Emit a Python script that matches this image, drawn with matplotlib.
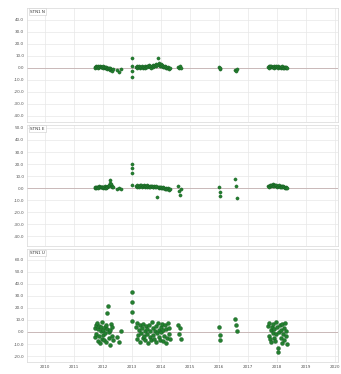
import matplotlib
matplotlib.use("Agg")
import matplotlib.pyplot as plt

# epochs (decimal year), shared by the three components
epochs = [
    # first campaign
    2011.72, 2011.74, 2011.76, 2011.78, 2011.80, 2011.82, 2011.84, 2011.86,
    2011.88, 2011.90, 2011.92, 2011.94, 2011.96, 2011.98, 2012.00, 2012.02,
    2012.04, 2012.06, 2012.08, 2012.10, 2012.12, 2012.14, 2012.16, 2012.18,
    2012.20, 2012.22, 2012.24, 2012.26, 2012.28, 2012.30, 2012.32, 2012.34,
    # stragglers
    2012.50, 2012.56, 2012.62,
    # spike
    2012.99, 2013.00, 2013.01, 2013.02,
    # second campaign
    2013.14, 2013.17, 2013.19, 2013.22, 2013.24, 2013.27, 2013.29, 2013.32,
    2013.34, 2013.37, 2013.39, 2013.42, 2013.44, 2013.47, 2013.49, 2013.52,
    2013.54, 2013.57, 2013.59, 2013.62, 2013.64, 2013.67, 2013.69, 2013.72,
    2013.74, 2013.77, 2013.79, 2013.82, 2013.84, 2013.87, 2013.89, 2013.92,
    2013.94, 2013.97, 2013.99, 2014.02, 2014.04, 2014.07, 2014.09, 2014.12,
    2014.14, 2014.17, 2014.19, 2014.22, 2014.24, 2014.27, 2014.29, 2014.32,
    # short occupations
    2014.58, 2014.62, 2014.66, 2014.70,
    2016.01, 2016.03, 2016.05,
    2016.56, 2016.59, 2016.62,
    # last campaign
    2017.70, 2017.72, 2017.74, 2017.77, 2017.79, 2017.81, 2017.83, 2017.86,
    2017.88, 2017.90, 2017.92, 2017.95, 2017.97, 2017.99, 2018.01, 2018.04,
    2018.06, 2018.08, 2018.10, 2018.13, 2018.15, 2018.17, 2018.19, 2018.22,
    2018.24, 2018.26, 2018.28, 2018.31, 2018.33, 2018.36,
]

north = [
    0.8, 0.3, 1.2, 0.6, 1.0, 0.2, 1.4, 0.7, 0.9, 1.6, 0.4, 1.1, 0.5, 0.9, 0.3, 1.2,
    0.6, 0.0, 0.8, -0.4, 0.5, 0.1, -0.9, 0.2, -1.3, -0.5, -0.2, -1.8, -0.8, -1.5, -2.4, -1.1,
    -2.0, -3.5, -1.2,
    8.5, 1.5, -2.5, -7.5,
    0.5, 1.2, -0.3, 0.8, 1.5, 0.2, 1.0, 0.6, 1.8, 0.3, 1.1, 0.7, 1.4, 0.0, 0.9, 1.6,
    0.4, 1.2, 2.0, 0.8, 1.5, 0.3, 1.9, 1.1, 2.4, 1.3, 2.8, 1.7, 3.5, 2.2, 8.5, 4.1,
    2.6, 1.5, 2.9, 1.2, 2.0, 0.9, 1.7, 0.6, 1.3, 0.2, 1.0, -0.4, 0.7, 0.1, -0.8, 0.3,
    0.8, -0.5, 1.2, 0.2,
    0.5, -0.8, 0.2,
    -1.5, -2.5, -1.0,
    0.6, 1.2, 0.3, 1.5, 0.9, 1.8, 0.4, 1.1, 0.7, 1.4, 0.2, 1.0, 0.6, 1.7, 0.8, 0.3,
    1.3, 0.5, 1.1, 0.0, 0.9, 0.4, 1.2, -0.2, 0.7, 0.3, 1.0, -0.4, 0.5, 0.1,
]

east = [
    0.5, 1.0, 0.2, 1.3, 0.7, 1.1, 0.4, 1.5, 0.9, 1.2, 0.6, 1.4, 0.8, 1.1, 0.3, 1.2,
    0.8, 1.6, 0.5, 1.1, 0.3, 0.9, 1.4, 2.0, 1.5, 2.6, 4.2, 6.5, 3.4, 1.9, 1.2, 0.6,
    -1.0, 0.5, -0.6,
    20.0, 16.5, 13.0, 2.5,
    2.0, 1.4, 2.6, 1.8, 1.1, 2.3, 1.6, 2.9, 1.3, 2.1, 1.7, 2.5, 1.2, 2.0, 1.5, 2.4,
    0.9, 1.8, 1.3, 2.2, 1.0, 1.6, 2.0, 0.8, 1.4, 1.9, 1.1, 0.6, 1.5, -7.0, 1.0, 0.4,
    1.2, 0.7, 0.2, 1.0, 0.5, -0.2, 0.8, 0.1, -0.6, 0.4, -0.3, -1.0, 0.2, -0.8, -1.4, -0.5,
    1.5, -2.5, -6.0, -1.0,
    1.0, -3.5, -6.5,
    7.5, 2.0, -8.0,
    1.5, 2.2, 1.0, 2.6, 1.8, 3.0, 2.4, 3.3, 2.0, 2.8, 1.6, 2.5, 1.9, 2.7, 1.3, 2.1,
    1.7, 2.4, 1.1, 1.9, 0.8, 1.5, 1.0, 1.7, 0.6, 1.2, 0.3, 0.9, -0.2, 0.5,
]

up = [
    3.5, -4.2, 6.1, -1.5, 7.4, -7.8, 2.2, -3.0, 5.0, -9.1, 0.6, 4.4, -5.5, 8.0, -2.4, 1.8,
    -6.3, 3.9, -0.8, 5.7, -8.6, 2.7, 16.0, 21.5, -4.9, 0.3, -10.5, 1.5, 6.8, -3.6, 4.1, -6.9,
    -4.0, -8.5, 1.0,
    33.0, 25.0, 17.0, 9.0,
    4.2, -6.1, 7.5, -2.3, 1.8, -8.4, 5.6, -0.9, 3.1, -5.2, 6.8, -3.7, 0.5, -7.0, 4.9, -1.6,
    2.7, -9.3, 6.2, -4.5, 1.2, -6.8, 8.1, -2.8, 3.6, -5.9, 0.9, -8.0, 5.3, -1.1, 7.2, -3.9,
    2.0, -6.5, 4.5, -0.4, 6.6, -7.5, 1.6, -3.2, 5.8, -9.0, 2.9, -4.8, 7.9, -1.9, 3.3, -6.0,
    6.0, -2.0, 3.5, -5.5,
    4.0, -2.5, -6.5,
    11.0, 6.0, 1.0,
    5.2, -3.1, 7.4, -6.2, 1.5, -8.7, 4.3, -0.6, 6.9, -4.8, 2.1, -7.5, 8.2, -2.0, 3.8, -13.5,
    -17.0, 0.4, 5.6, -5.1, 1.9, -8.9, 6.3, -1.4, 3.0, -6.6, 7.8, -3.5, 0.8, -9.8,
]

panel_labels = ["STN1 N", "STN1 E", "STN1 U"]
panel_ylims = [(-45, 50), (-48, 52.5), (-25, 69)]
panel_yticks = [range(-40, 41, 10), range(-40, 51, 10), range(-20, 61, 10)]
year_ticks = list(range(2010, 2021))

fig = plt.figure(figsize=(3.41, 3.74), dpi=100)
left, right = 0.079, 0.99
boxes = [(0.674, 0.979), (0.342, 0.666), (0.032, 0.334)]

for i, (series, label) in enumerate(zip([north, east, up], panel_labels)):
    bottom, top = boxes[i]
    ax = fig.add_axes([left, bottom, right - left, top - bottom])
    ax.axhline(0, color="#c4b0b0", lw=0.6, zorder=1)
    ax.plot(epochs, series, ls="none", marker="o", ms=2.8 if i == 2 else 2.3,
            mec="#175c22", mew=0.3, color="#23802f", zorder=3)
    ax.set_xlim(2009.38, 2020.1)
    ax.set_ylim(*panel_ylims[i])
    ax.set_yticks(list(panel_yticks[i]))
    ax.set_yticklabels([f"{v:.1f}" for v in panel_yticks[i]])
    ax.set_xticks(year_ticks)
    if i == 2:
        ax.set_xticklabels([str(y) for y in year_ticks])
    else:
        ax.set_xticklabels([])
    ax.tick_params(labelsize=3, length=0, pad=2, colors="#555555")
    ax.grid(True, color="#e8e8e8", lw=0.5)
    ax.set_axisbelow(True)
    for s in ax.spines.values():
        s.set_color("#d8d8d8")
        s.set_linewidth(0.5)
    ax.text(0.01, 0.985, label, transform=ax.transAxes, fontsize=3, va="top",
            ha="left", color="#333333",
            bbox=dict(boxstyle="square,pad=0.3", fc="white", ec="#cccccc", lw=0.4))

fig.savefig("out.png", dpi=100)
